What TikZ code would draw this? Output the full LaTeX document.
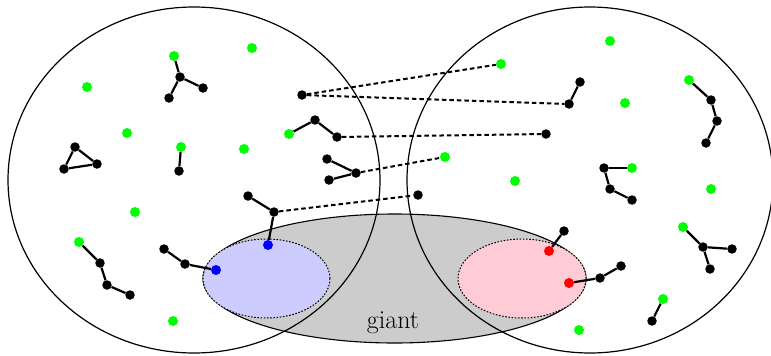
\documentclass[tikz,border=0pt]{standalone}
\usepackage{tikz}
\tikzset{
	vtx/.style={
		circle,fill=black,inner sep=0pt,minimum size=9.5pt
	},
	leaf/.style={vtx,fill=green,minimum size=10pt},
	bvtx/.style={vtx,fill=blue,minimum size=10pt},
	rvtx/.style={vtx,fill=red,minimum size=10pt},
	link/.style={line width=2.2pt},
	cross/.style={line width=2pt,dash pattern=on 4.5pt off 3pt},
	region/.style={line width=1pt,dash pattern=on 1.6pt off 1.6pt},
	every edge/.append style={link}
}
\definecolor{giantpink}{RGB}{255,204,214}

\begin{document}
\begin{tikzpicture}[x=1pt,y=-1pt]
	\useasboundingbox (0,0) rectangle (771,356);
	% giant component and the two samples
	\draw[line width=1.1pt,fill=black!20] (394.5,278.5) ellipse [x radius=191.5pt,y radius=64.5pt];
	\draw[region,fill=blue!20]  (266.5,278.5) ellipse [x radius=63.5pt,y radius=39.5pt];
	\draw[region,fill=giantpink] (522,278.5) ellipse [x radius=64pt,y radius=39.5pt];
	\draw[line width=1.2pt] (194,180) ellipse [x radius=186pt,y radius=173pt];
	\draw[line width=1.2pt] (590,180) ellipse [x radius=183pt,y radius=173pt];
	\node[anchor=base,font=\fontsize{26}{30}\selectfont] (giant) at (393,328) {giant};

	\draw
		% left
		node[leaf] (L0)  at (174,56)  {}
		node[vtx]  (L1)  at (180,77)  {}
		node[vtx]  (L2)  at (203,88)  {}
		node[vtx]  (L3)  at (169,98)  {}
		node[leaf] (L4)  at (252,48)  {}
		node[leaf] (L5)  at (87,87)   {}
		node[leaf] (L6)  at (127,133) {}
		node[leaf] (L7)  at (181,147) {}
		node[vtx]  (L8)  at (179,171) {}
		node[leaf] (L9)  at (244,149) {}
		node[vtx]  (L10) at (75,147)  {}
		node[vtx]  (L11) at (97,164)  {}
		node[vtx]  (L12) at (64,169)  {}
		node[vtx]  (L13) at (302,95)  {}
		node[leaf] (L14) at (289,134) {}
		node[vtx]  (L15) at (315,120) {}
		node[vtx]  (L16) at (337,137) {}
		node[vtx]  (L17) at (327,159) {}
		node[vtx]  (L18) at (356,173) {}
		node[vtx]  (L19) at (329,180) {}
		node[leaf] (L20) at (135,212) {}
		node[leaf] (L21) at (79,242)  {}
		node[vtx]  (L22) at (100,263) {}
		node[vtx]  (L23) at (107,285) {}
		node[vtx]  (L24) at (130,295) {}
		node[vtx]  (L25) at (164,249) {}
		node[vtx]  (L26) at (185,264) {}
		node[bvtx] (B0)  at (216,270) {}
		node[vtx]  (L27) at (248,196) {}
		node[vtx]  (L28) at (274,212) {}
		node[bvtx] (B1)  at (268,245) {}
		node[leaf] (L29) at (173,321) {}
		% right
		node[leaf] (R0)  at (501,64)  {}
		node[vtx]  (R1)  at (569,104) {}
		node[vtx]  (R2)  at (580,82)  {}
		node[vtx]  (R3)  at (546,134) {}
		node[leaf] (R4)  at (445,157) {}
		node[vtx]  (R5)  at (418,195) {}
		node[leaf] (R6)  at (610,41)  {}
		node[leaf] (R7)  at (625,103) {}
		node[leaf] (R8)  at (689,80)  {}
		node[vtx]  (R9)  at (711,100) {}
		node[vtx]  (R10) at (717,121) {}
		node[vtx]  (R11) at (706,143) {}
		node[vtx]  (R12) at (604,168) {}
		node[leaf] (R13) at (632,168) {}
		node[vtx]  (R14) at (610,189) {}
		node[vtx]  (R15) at (632,200) {}
		node[leaf] (R16) at (515,181) {}
		node[leaf] (R17) at (711,189) {}
		node[leaf] (R18) at (683,227) {}
		node[vtx]  (R19) at (703,247) {}
		node[vtx]  (R20) at (732,249) {}
		node[vtx]  (R21) at (710,269) {}
		node[vtx]  (R22) at (564,231) {}
		node[rvtx] (P0)  at (549,251) {}
		node[rvtx] (P1)  at (569,283) {}
		node[vtx]  (R23) at (600,278) {}
		node[vtx]  (R24) at (621,266) {}
		node[leaf] (R25) at (663,299) {}
		node[vtx]  (R26) at (652,321) {}
		node[leaf] (R27) at (579,330) {}

		(L0)  edge (L1)
		(L1)  edge (L2)
		(L1)  edge (L3)
		(L7)  edge (L8)
		(L10) edge (L11)
		(L11) edge (L12)
		(L12) edge (L10)
		(L14) edge (L15)
		(L15) edge (L16)
		(L17) edge (L18)
		(L18) edge (L19)
		(L21) edge (L22)
		(L22) edge (L23)
		(L23) edge (L24)
		(L25) edge (L26)
		(L26) edge (B0)
		(L27) edge (L28)
		(L28) edge (B1)
		(R1)  edge (R2)
		(R8)  edge (R9)
		(R9)  edge (R10)
		(R10) edge (R11)
		(R13) edge (R12)
		(R12) edge (R14)
		(R14) edge (R15)
		(R18) edge (R19)
		(R19) edge (R20)
		(R19) edge (R21)
		(P0)  edge (R22)
		(P1)  edge (R23)
		(R23) edge (R24)
		(R25) edge (R26)
		% between the two
		(L13) edge[cross] (R0)
		(L13) edge[cross] (R1)
		(L16) edge[cross] (R3)
		(L18) edge[cross] (R4)
		(L28) edge[cross] (R5)
	;
\end{tikzpicture}
\end{document}
